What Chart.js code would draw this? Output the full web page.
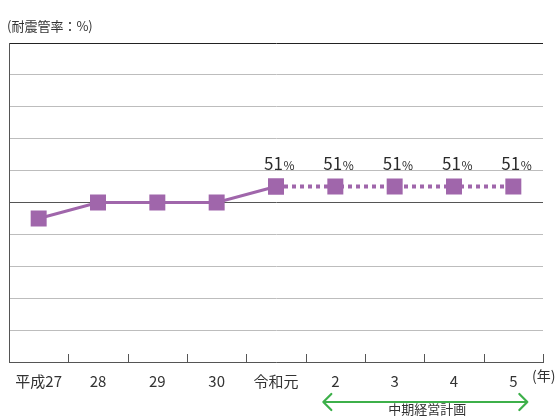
<!DOCTYPE html>
<html lang="ja">
<head>
<meta charset="utf-8">
<script src="https://cdn.jsdelivr.net/npm/chart.js@4/dist/chart.umd.min.js"></script>
<style>
  html, body { margin: 0; padding: 0; background: #fff; }
  #chart { display: block; }
</style>
</head>
<body>
<canvas id="chart" width="557" height="416"></canvas>
<script>
// Fiscal years (平成27 … 令和5)
const years = ['平成27', '28', '29', '30', '令和元', '2', '3', '4', '5'];
// Earthquake-resistant pipe ratio (%)
const rates = [49, 50, 50, 50, 51, 51, 51, 51, 51];
// First index belonging to the mid-term management plan projection
const planStart = 4;
// Value axis range
const axisMin = 40;
const axisMax = 60;
const axisStep = 2;

const FONT = '"Noto Sans CJK JP", "Noto Sans", sans-serif';
const PURPLE = '#a066ab';

const actual = rates.map((v, i) => (i <= planStart ? v : null));
const plan = rates.map((v, i) => (i >= planStart ? v : null));

// Extra drawing: unit caption, inner tick marks, value labels, plan arrow
const decorations = {
  id: 'decorations',
  afterDraw(chart) {
    const { ctx } = chart;
    const x = chart.scales.x;
    const y = chart.scales.y;
    ctx.save();

    // Unit caption
    ctx.fillStyle = '#333';
    ctx.font = '13px ' + FONT;
    ctx.textBaseline = 'middle';
    ctx.textAlign = 'left';
    ctx.fillText('(耐震管率：%)', 7, 26);

    // Short category separators rising from the axis
    ctx.strokeStyle = '#555';
    ctx.lineWidth = 1;
    const n = years.length;
    const seps = [];
    for (let i = 1; i < n; i++) seps.push((x.getPixelForValue(i - 1) + x.getPixelForValue(i)) / 2);
    seps.push(x.right);
    const by = y.bottom;
    ctx.beginPath();
    seps.forEach(px => {
      const sx = Math.round(px) + 0.5;
      ctx.moveTo(sx, by);
      ctx.lineTo(sx, by - 8);
    });
    ctx.stroke();

    // Value labels above the plan points
    const meta = chart.getDatasetMeta(1);
    meta.data.forEach((pt, i) => {
      const v = plan[i];
      if (v == null) return;
      const num = String(v);
      ctx.font = '17px ' + FONT;
      const wNum = ctx.measureText(num).width;
      ctx.font = '12px ' + FONT;
      const wPct = ctx.measureText('%').width;
      const start = pt.x + 3 - (wNum + wPct) / 2;
      const base = pt.y - 17;
      ctx.textAlign = 'left';
      ctx.textBaseline = 'alphabetic';
      ctx.fillStyle = '#2b2b2b';
      ctx.font = '17px ' + FONT;
      ctx.fillText(num, start, base);
      ctx.font = '12px ' + FONT;
      ctx.fillText('%', start + wNum + 0.5, base);
    });

    // Year unit at the end of the axis
    ctx.font = '14px ' + FONT;
    ctx.textAlign = 'left';
    ctx.textBaseline = 'middle';
    ctx.fillStyle = '#333';
    ctx.fillText('(年)', 532, 376);

    // Mid-term management plan span arrow
    const ax0 = x.getPixelForValue(5) - 12;
    const ax1 = x.getPixelForValue(8) + 14;
    const ay = 402;
    ctx.strokeStyle = '#3db04a';
    ctx.lineWidth = 2.2;
    ctx.lineCap = 'round';
    ctx.lineJoin = 'round';
    ctx.beginPath();
    ctx.moveTo(ax0, ay);
    ctx.lineTo(ax1, ay);
    ctx.moveTo(ax0 + 8, ay - 8);
    ctx.lineTo(ax0, ay);
    ctx.lineTo(ax0 + 8, ay + 8);
    ctx.moveTo(ax1 - 8, ay - 8);
    ctx.lineTo(ax1, ay);
    ctx.lineTo(ax1 - 8, ay + 8);
    ctx.stroke();

    ctx.fillStyle = '#333';
    ctx.font = '13px ' + FONT;
    ctx.textAlign = 'center';
    ctx.textBaseline = 'alphabetic';
    ctx.fillText('中期経営計画', (ax0 + ax1) / 2 + 2, 414);

    ctx.restore();
  }
};

new Chart(document.getElementById('chart'), {
  type: 'line',
  data: {
    labels: years,
    datasets: [
      {
        data: actual,
        borderColor: PURPLE,
        backgroundColor: PURPLE,
        borderWidth: 3,
        pointStyle: 'rect',
        pointRadius: 11.3,
        pointBorderWidth: 0,
        spanGaps: false
      },
      {
        data: plan,
        borderColor: PURPLE,
        backgroundColor: PURPLE,
        borderWidth: 4,
        borderDash: [4, 4],
        borderCapStyle: 'butt',
        pointStyle: 'rect',
        pointRadius: 11.3,
        pointBorderWidth: 0,
        spanGaps: false
      }
    ]
  },
  options: {
    responsive: false,
    devicePixelRatio: 1,
    animation: false,
    layout: { autoPadding: false, padding: { left: 9, right: 14, top: 43, bottom: 0 } },
    plugins: {
      legend: { display: false },
      tooltip: { enabled: false }
    },
    scales: {
      x: {
        offset: true,
        grid: { display: false },
        border: { color: '#555', width: 1 },
        ticks: {
          color: '#333',
          font: { family: FONT, size: 15 },
          padding: 2,
          maxRotation: 0,
          autoSkip: false
        },
        afterFit(s) { s.height = 54; }
      },
      y: {
        min: axisMin,
        max: axisMax,
        ticks: { display: false, stepSize: axisStep },
        border: { color: '#555', width: 1 },
        grid: {
          drawTicks: false,
          lineWidth: 1,
          color(c) {
            const v = c.tick && c.tick.value;
            if (v === axisMax) return '#222';
            if (v === 50) return '#555';
            return '#bdbdbd';
          }
        },
        afterFit(s) { s.width = 0; }
      }
    }
  },
  plugins: [decorations]
});
</script>
</body>
</html>
